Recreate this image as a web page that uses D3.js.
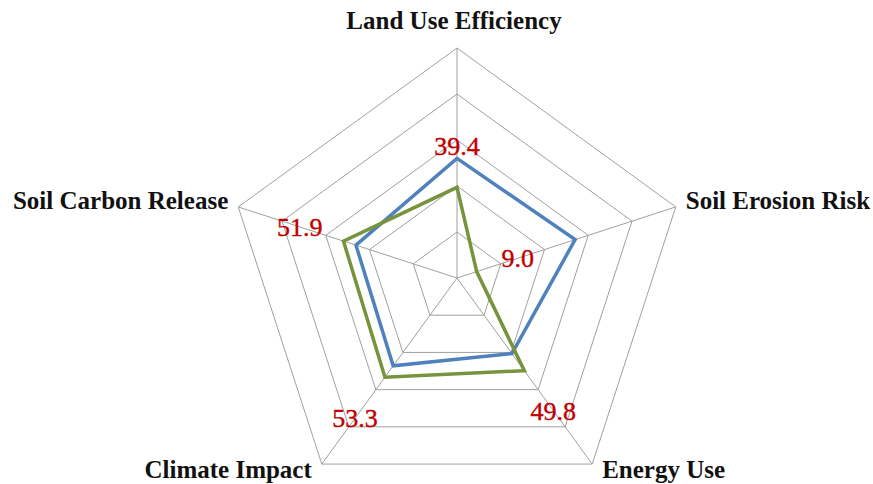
<!DOCTYPE html>
<html>
<head>
<meta charset="utf-8">
<script src="https://cdn.jsdelivr.net/npm/d3@7"></script>
<style>
  body { margin: 0; background: #fff; }
  svg { display: block; }
</style>
</head>
<body>
<script>
// axis names, clockwise from the top
var axes = ['Land Use Efficiency', 'Soil Erosion Risk', 'Energy Use', 'Climate Impact', 'Soil Carbon Release'];
var seriesBlue = [52.0, 54.0, 40.6, 47.2, 46.2];
var seriesGreen = [39.4, 9.0, 49.8, 53.3, 51.9];
// where Excel left the data labels, in axis units
var labelAt = [57.4, 27.8, 71.2, 75.4, 71.9];
var ringTicks = [20, 40, 60, 80, 100];

var width = 873, height = 484;
var cx = 457, cy = 278, R = 230;

var r = d3.scaleLinear().domain([0, 100]).range([0, R]);
var angle = d3.scaleLinear().domain([0, axes.length]).range([0, 2 * Math.PI]);

function pt(i, v) {
  var a = angle(i);
  return [cx + r(v) * Math.sin(a), cy - r(v) * Math.cos(a)];
}

var svg = d3.select('body').append('svg')
  .attr('width', width)
  .attr('height', height);

var grid = svg.append('g').attr('class', 'grid');

// rings
grid.selectAll('polygon')
  .data(ringTicks)
  .enter().append('polygon')
    .attr('points', function(t) { return axes.map(function(d, i) { return pt(i, t).join(','); }).join(' '); })
    .attr('fill', 'none')
    .attr('stroke', '#a0a0a0')
    .attr('stroke-width', 1);

// spokes
grid.selectAll('line')
  .data(axes)
  .enter().append('line')
    .attr('x1', cx).attr('y1', cy)
    .attr('x2', function(d, i) { return pt(i, 100)[0]; })
    .attr('y2', function(d, i) { return pt(i, 100)[1]; })
    .attr('stroke', '#a0a0a0')
    .attr('stroke-width', 1);

var line = d3.lineRadial()
  .angle(function(d, i) { return angle(i); })
  .radius(function(d) { return r(d); })
  .curve(d3.curveLinearClosed);

var series = [
  {values: seriesBlue, color: '#4f81bd'},
  {values: seriesGreen, color: '#77933c'}
];

svg.append('g')
  .attr('transform', 'translate(' + cx + ',' + cy + ')')
  .selectAll('path')
  .data(series)
  .enter().append('path')
    .attr('d', function(d) { return line(d.values); })
    .attr('fill', 'none')
    .attr('stroke', function(d) { return d.color; })
    .attr('stroke-width', 3.5)
    .attr('stroke-linejoin', 'miter');

// axis names
svg.append('g').selectAll('text')
  .data(axes)
  .enter().append('text')
    .attr('x', function(d, i) {
      var p = pt(i, 100);
      if (i === 0) return p[0] - 3;
      return p[0] + (p[0] > cx ? 10 : -10);
    })
    .attr('y', function(d, i) {
      var p = pt(i, 100);
      if (i === 0) return p[1] - 19;
      return p[1] + (p[1] > cy ? 14 : 2);
    })
    .attr('text-anchor', function(d, i) {
      if (i === 0) return 'middle';
      return pt(i, 100)[0] > cx ? 'start' : 'end';
    })
    .attr('font-family', '"Liberation Serif", serif')
    .attr('font-weight', 'bold')
    .attr('font-size', 25)
    .attr('fill', '#111')
    .text(function(d) { return d; });

// data labels for the green series
svg.append('g').selectAll('text')
  .data(seriesGreen)
  .enter().append('text')
    .attr('x', function(d, i) { return pt(i, labelAt[i])[0]; })
    .attr('y', function(d, i) { return pt(i, labelAt[i])[1]; })
    .attr('dy', '0.35em')
    .attr('text-anchor', 'middle')
    .attr('font-family', '"Liberation Serif", serif')
    .attr('font-size', 26)
    .attr('fill', '#c00000')
    .attr('stroke', '#c00000')
    .attr('stroke-width', 0.4)
    .text(function(d) { return d.toFixed(1); });
</script>
</body>
</html>
